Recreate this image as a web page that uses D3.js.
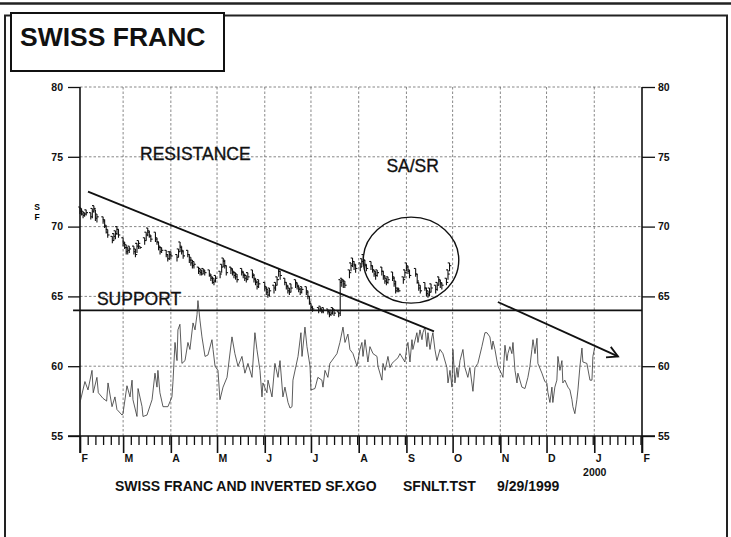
<!DOCTYPE html>
<html><head><meta charset="utf-8">
<script src="https://cdn.jsdelivr.net/npm/d3@7"></script>
<style>
body{margin:0;background:#fff}
svg{display:block}
text{font-family:"Liberation Sans",Arial,Helvetica,sans-serif}
</style>
</head><body>
<svg id="chart" width="731" height="537"></svg>
<script>
// ---------- DATA ----------
const startDate = new Date(1999, 1, 1);
const endDate = new Date(2000, 1, 1);
const yTicks = [55, 60, 65, 70, 75, 80];
const monthLabels = ["F","M","A","M","J","J","A","S","O","N","D","J","F"];
const yearLabel = "2000";
const titleText = "SWISS FRANC";
const captionParts = ["SWISS FRANC AND INVERTED SF.XGO", "SFNLT.TST", "9/29/1999"];
const supportLevel = 64;

// daily OHLC-style bars (day offset from Feb 1 1999)
const barDays  = [0,1,2,3,4, 7,8,9,10,11, 15,16,17,18, 21,22,23,24,25, 28,29,30,31,32, 35,36,37,38,39, 42,43,44,45,46, 49,50,51,52,53, 56,57,58,59, 63,64,65,66,67, 70,71,72,73,74, 77,78,79,80,81, 84,85,86,87,88, 91,92,93,94,95, 98,99,100,101,102, 105,106,107,108,109, 112,113,114,115,116, 120,121,122,123, 126,127,128,129,130, 133,134,135,136,137, 140,141,142,143,144, 147,148,149,150,151, 155,156,157,158, 161,162,163,164,165, 168,169,170,171,172, 175,176,177,178,179, 182,183,184,185,186, 189,190,191,192,193, 196,197,198,199,200, 203,204,205,206,207, 210,211,212,213,214, 218,219,220,221, 224,225,226,227,228, 231,232,233,234,235, 238,239,240];
const barHigh  = [71.4,71.3,71.1,71.0,71.2, 71.0,71.3,71.5,71.2,70.9, 70.7,70.5,70.1,69.8, 69.3,69.5,69.7,70.0,69.8, 69.2,68.9,68.7,68.5,68.6, 68.6,68.4,68.8,69.0,68.6, 69.2,69.6,69.9,69.7,69.4, 69.6,69.2,68.9,68.6,68.5, 68.3,68.0,68.2,68.2, 68.0,68.4,68.9,68.6,68.3, 68.3,68.0,67.8,67.6,67.5, 67.1,67.0,66.9,67.0,66.9, 66.9,66.6,66.4,66.3,66.5, 66.8,67.3,67.75,67.6,67.2, 67.1,67.0,66.8,66.7,66.6, 67.0,66.8,66.6,66.5,66.7, 66.9,66.6,66.3,66.1,66.2, 66.0,65.7,65.5,65.6, 65.8,66.0,66.4,67.0,66.8, 66.3,66.0,65.8,65.6,65.9, 66.2,66.0,65.8,65.6,65.7, 65.7,65.4,65.0,64.5,64.3, 64.2,64.3,64.1,64.2, 64.1,63.9,64.0,64.2,64.1, 63.9,66.2,66.3,66.2,66.1, 66.9,67.4,67.75,67.5,67.3, 67.4,67.7,68.0,67.6,67.3, 67.5,67.2,66.9,66.8,66.9, 67.1,66.8,66.5,66.3,66.4, 66.75,66.4,66.1,65.6,65.6, 66.4,66.9,67.4,67.2,66.9, 67.0,66.6,66.0,65.8, 66.0,65.6,65.4,65.6,65.9, 65.8,66.0,66.4,66.2,66.0, 66.3,66.9,67.4];
const barLow   = [70.9,70.8,70.6,70.7,70.8, 70.5,70.6,71.0,70.4,70.3, 70.2,69.9,69.5,69.2, 68.8,69.0,69.1,69.4,69.2, 68.6,68.4,68.0,68.0,68.1, 68.0,67.8,68.1,68.4,68.4, 68.7,69.0,69.3,69.2,68.9, 68.9,68.7,68.3,68.0,68.1, 67.8,67.5,67.6,67.7, 67.5,67.8,68.2,68.0,67.7, 67.8,67.4,67.2,67.0,67.0, 66.6,66.5,66.5,66.6,66.5, 66.4,66.1,65.9,65.8,66.0, 66.3,66.7,67.1,67.0,66.5, 66.6,66.5,66.3,66.2,66.0, 66.5,66.3,66.1,66.0,66.2, 66.3,66.0,65.8,65.5,65.6, 65.4,65.1,64.9,65.0, 65.2,65.4,65.8,66.4,66.2, 65.8,65.5,65.2,65.1,65.3, 65.6,65.5,65.3,65.1,65.2, 65.1,64.8,64.4,64.0,63.9, 63.8,63.9,63.8,63.8, 63.7,63.5,63.6,63.7,63.6, 63.5,63.6,65.7,65.6,65.6, 66.3,66.8,67.1,66.9,66.7, 66.8,67.1,67.3,67.0,66.8, 66.9,66.7,66.4,66.2,66.4, 66.5,66.2,65.9,65.8,65.9, 66.1,65.7,65.2,65.3,65.3, 65.9,66.3,66.8,66.6,66.3, 66.4,65.9,65.4,65.2, 65.4,65.0,64.9,65.0,65.3, 65.2,65.4,65.8,65.6,65.5, 65.8,66.2,66.8];
const barClose = [71.1,70.9,70.8,70.9,71.0, 70.7,71.1,71.3,70.6,70.7, 70.4,70.0,69.6,69.4, 69.0,69.3,69.5,69.8,69.4, 68.8,68.5,68.2,68.3,68.4, 68.2,68.0,68.6,68.8,68.5, 69.0,69.4,69.6,69.3,69.1, 69.1,68.9,68.5,68.2,68.3, 68.0,67.7,68.0,67.9, 67.8,68.2,68.5,68.2,67.9, 68.0,67.6,67.4,67.2,67.3, 66.8,66.7,66.6,66.8,66.7, 66.5,66.3,66.0,66.1,66.3, 66.6,67.1,67.5,67.2,66.7, 66.9,66.7,66.5,66.4,66.2, 66.7,66.5,66.3,66.2,66.4, 66.5,66.2,66.0,65.7,65.9, 65.6,65.3,65.1,65.4, 65.6,65.8,66.2,66.8,66.5, 66.0,65.7,65.4,65.3,65.6, 65.9,65.7,65.5,65.3,65.5, 65.3,65.0,64.6,64.2,64.1, 64.0,64.1,63.9,64.0, 63.9,63.7,63.8,64.0,63.8, 63.8,66.0,66.1,65.9,65.8, 66.7,67.2,67.5,67.2,67.0, 67.1,67.5,67.6,67.2,67.0, 67.2,66.9,66.6,66.5,66.7, 66.8,66.4,66.1,66.0,66.2, 66.3,65.9,65.4,65.5,65.4, 66.2,66.7,67.1,66.8,66.5, 66.6,66.1,65.6,65.4, 65.6,65.2,65.1,65.3,65.6, 65.5,65.8,66.1,65.9,65.8, 66.0,66.6,67.2];

// inverted SF line (day offset, value)
const lineDays = [0,3.2,5.2,7.8,8.6,11,11.9,14.9,17.3,18.2,20.8,22.7,24,27.3,27.9,30.5,32.5,33.8,34.4,37,37.7,40.3,40.9,43.5,46.8,48.7,50,50.6,51.9,53.9,57.1,59.7,60.4,61.7,63,63.6,64.9,66.2,68.2,70.1,71.4,73.4,74.7,76,76.6,77.9,79.2,81.2,83.1,85.7,86.4,87.7,89.6,90.9,92.9,95.5,98.7,100.6,102.6,105.2,107.1,109.1,111.7,113.6,114.9,116.9,118.2,118.8,121.4,122.1,124.7,126.6,128.6,129.9,131.8,133.1,135.1,136.4,137.7,138.3,141.6,143.5,144.2,146.1,147.4,149.4,150,152.6,154.5,157.1,157.8,159.1,161,162.3,166.9,168.8,170.8,172.1,174,175.3,177.3,179.9,181.8,183.1,183.8,185.1,187,188.3,190.3,192.9,193.5,196.1,196.8,198.1,200,201.3,202.6,204.5,206.5,207.8,211,212.3,213,214.3,215.6,216.2,218.8,219.5,220.8,222.1,222.7,224,225.3,226,227.3,228.6,229.2,230.5,231.8,233.8,235.7,238.3,239,240.3,241.6,242.2,243.5,244.8,245.5,246.8,248.7,250,251.9,253.2,255.2,256.5,258.4,261,263,264.3,266.2,267.5,268.2,269.5,271.4,274,274.7,276,277.3,277.9,279.2,280.5,281.2,282.5,283.8,284.4,285.7,287,289,290.9,292.2,293.5,294.2,295.5,296.8,297.4,300,301.9,303.2,303.9,305.2,306.5,307.1,308.4,309.7,310.4,311.7,313,313.6,314.9,316.9,318.2,319.5,320.1,321.4,322.7,323.4,324.7,326,326.6,329.2,331.2,332.5,333.1,334.4];
const lineValues = [57.4,58.9,58.3,59.7,58.1,59.2,58.1,57.7,57.5,58.8,57.1,57.8,56.9,56.5,56.6,58.6,57.8,59.0,57.6,56.4,58.4,57.1,56.4,56.5,57.6,59.5,58.5,59.7,58.1,57.1,57.1,57.8,58.9,61.7,60.4,62.6,63.0,60.2,60.4,61.7,61.2,63.1,62.6,63.7,64.7,63.3,62.1,60.7,60.8,61.9,61.2,60.0,59.7,57.6,58.5,59.2,62.1,60.9,60.0,60.7,59.5,60.2,59.2,62.4,61.2,59.7,57.8,58.8,58.1,59.0,57.8,60.2,59.2,60.4,57.8,58.5,57.4,57.0,57.1,59.0,60.7,62.4,60.7,62.8,61.4,60.0,58.3,58.4,59.2,59.0,58.5,59.7,59.2,60.2,60.9,61.7,62.8,61.7,62.3,61.2,60.9,60.0,61.2,61.7,60.7,61.9,60.3,61.4,60.9,60.7,60.0,59.0,60.2,59.7,60.7,59.9,60.2,60.4,60.6,60.9,60.3,61.4,61.7,60.3,61.9,61.2,62.4,61.7,62.6,61.9,62.4,62.8,61.4,62.4,61.2,62.1,62.4,61.2,60.4,61.2,60.9,59.9,58.8,59.7,58.5,61.2,58.8,59.9,59.2,60.4,61.2,59.9,59.2,59.9,58.2,59.9,60.2,61.4,62.4,62.4,62.1,61.2,61.8,61.2,60.0,59.4,59.2,61.5,60.4,60.9,61.4,60.9,61.7,59.7,58.8,59.5,59.0,58.5,58.4,59.2,60.0,61.2,61.9,60.9,62.0,60.2,59.5,58.9,58.8,58.1,57.4,58.5,57.4,58.5,59.0,60.7,59.7,60.4,58.8,59.0,58.5,58.3,57.6,57.1,56.6,57.6,58.3,60.0,61.3,60.3,60.2,59.0,59.0,60.7,61.4];

// annotations (day offset, value)
const resistanceLine = [[5.2, 72.5], [229.9, 62.5]];
const trendArrow = [[271.4, 64.6], [349.4, 60.7]];
const saCircle = {day: 215, value: 67.6, rDays: 31, rValue: 3.08};
const annotations = [
  {text: "RESISTANCE", day: 39, value: 74.8},
  {text: "SA/SR", day: 199, value: 73.9},
  {text: "SUPPORT", day: 11, value: 64.4}
];

// ---------- DRAW ----------
const svg = d3.select("#chart");
const dayToDate = d => new Date(startDate.getTime() + d * 86400000);
const FONT = '"Liberation Sans",Arial,sans-serif';

const x = d3.scaleTime().domain([startDate, endDate]).range([80, 642]);
const y = d3.scaleLinear().domain([55, 80]).range([436, 87]);

// outer decorations
svg.append("line").attr("x1", 0).attr("x2", 731).attr("y1", 3.5).attr("y2", 3.5)
  .attr("stroke", "#222").attr("stroke-width", 2.5);
svg.append("path").attr("d", "M5,540V15.5H727V540").attr("fill", "none")
  .attr("stroke", "#222").attr("stroke-width", 2);

// grid
const months = d3.timeMonth.range(startDate, d3.timeDay.offset(endDate, 1));
const grid = svg.append("g").attr("stroke", "#555").attr("stroke-width", 0.7)
  .attr("stroke-dasharray", "2.5,2");
grid.selectAll(".gh").data(yTicks.filter(v => v > 55)).join("line")
  .attr("x1", x(startDate)).attr("x2", x(endDate))
  .attr("y1", d => y(d)).attr("y2", d => y(d));
grid.selectAll(".gv").data(months.slice(1, -1)).join("line")
  .attr("x1", d => x(d)).attr("x2", d => x(d))
  .attr("y1", y(80)).attr("y2", y(55));

// axes
const axisG = svg.append("g");
const leftAxis = d3.axisLeft(y).tickValues(yTicks).tickSize(12).tickPadding(5).tickSizeOuter(0);
const gl = axisG.append("g").attr("transform", `translate(${x(startDate)},0)`).call(leftAxis);
const rightAxis = d3.axisRight(y).tickValues(yTicks).tickSize(13).tickPadding(3).tickSizeOuter(0);
const gr = axisG.append("g").attr("transform", `translate(${x(endDate)},0)`).call(rightAxis);

const minorDays = d3.timeDay.every(5).range(startDate, endDate).filter(d => d.getDate() !== 1);
const minorAxis = d3.axisBottom(x).tickValues(minorDays).tickSize(9).tickFormat("").tickSizeOuter(0);
const gm = axisG.append("g").attr("transform", `translate(0,${y(55)})`).call(minorAxis);
const majorAxis = d3.axisBottom(x).tickValues(months).tickSize(17).tickSizeOuter(0)
  .tickFormat((d, i) => monthLabels[i]);
const gM = axisG.append("g").attr("transform", `translate(0,${y(55)})`).call(majorAxis);

[gl, gr, gm, gM].forEach(g => {
  g.select(".domain").remove();
  g.selectAll(".tick line").attr("stroke", "#111").attr("stroke-width", 1.3);
  g.selectAll("text").attr("fill", "#111").attr("font-size", 10.5).attr("font-weight", "bold")
    .attr("font-family", FONT);
});
gM.selectAll(".tick line").attr("stroke-width", 1.6);
gM.selectAll(".tick text").attr("text-anchor", "start").attr("x", 1).attr("dy", null).attr("y", 26);
gM.selectAll(".tick").filter((d, i) => i === 11).append("text")
  .text(yearLabel).attr("x", 0).attr("y", 40).attr("fill", "#111")
  .attr("font-size", 10.5).attr("font-weight", "bold").attr("font-family", FONT);

// axis lines
axisG.append("line").attr("x1", x(startDate)).attr("x2", x(startDate))
  .attr("y1", y(80)).attr("y2", y(55) + 17).attr("stroke", "#111").attr("stroke-width", 1.6);
axisG.append("line").attr("x1", x(endDate)).attr("x2", x(endDate))
  .attr("y1", y(80)).attr("y2", y(55) + 17).attr("stroke", "#111").attr("stroke-width", 1.6);
axisG.append("line").attr("x1", x(startDate) - 12).attr("x2", x(endDate) + 13)
  .attr("y1", y(55)).attr("y2", y(55)).attr("stroke", "#111").attr("stroke-width", 1.6);

// S F label
svg.append("text").attr("x", 37).attr("y", 210).attr("text-anchor", "middle")
  .attr("font-size", 8.5).attr("font-weight", "bold").text("S");
svg.append("text").attr("x", 37).attr("y", 220).attr("text-anchor", "middle")
  .attr("font-size", 8.5).attr("font-weight", "bold").text("F");

// support line
svg.append("line").attr("x1", x(dayToDate(-4.5))).attr("x2", x(endDate))
  .attr("y1", y(supportLevel)).attr("y2", y(supportLevel))
  .attr("stroke", "#111").attr("stroke-width", 1.6);

// inverted line
const lineGen = d3.line().x((d, i) => x(dayToDate(lineDays[i]))).y(d => y(d));
svg.append("path").datum(lineValues).attr("d", lineGen)
  .attr("fill", "none").attr("stroke", "#333").attr("stroke-width", 0.8);

// bars
const bars = svg.append("g").attr("stroke", "#111").attr("stroke-width", 1.1);
barDays.forEach((d, i) => {
  const bx = x(dayToDate(d));
  bars.append("line").attr("x1", bx).attr("x2", bx).attr("y1", y(barHigh[i])).attr("y2", y(barLow[i]));
  bars.append("line").attr("x1", bx).attr("x2", bx + 1.8).attr("y1", y(barClose[i])).attr("y2", y(barClose[i]));
  bars.append("line").attr("x1", bx - 1.8).attr("x2", bx).attr("y1", y(barHigh[i])).attr("y2", y(barHigh[i]));
});

// resistance line
const annLine = d3.line().x(d => x(dayToDate(d[0]))).y(d => y(d[1]));
svg.append("path").attr("d", annLine(resistanceLine)).attr("fill", "none")
  .attr("stroke", "#111").attr("stroke-width", 1.8);
// trend arrow
svg.append("path").attr("d", annLine(trendArrow)).attr("fill", "none")
  .attr("stroke", "#111").attr("stroke-width", 1.8);
{
  const p1 = [x(dayToDate(trendArrow[0][0])), y(trendArrow[0][1])];
  const p2 = [x(dayToDate(trendArrow[1][0])), y(trendArrow[1][1])];
  const ang = Math.atan2(p2[1] - p1[1], p2[0] - p1[0]);
  const L = 12, spread = 0.5;
  const a1 = [p2[0] - L * Math.cos(ang - spread), p2[1] - L * Math.sin(ang - spread)];
  const a2 = [p2[0] - L * Math.cos(ang + spread), p2[1] - L * Math.sin(ang + spread)];
  svg.append("path").attr("d", `M${a1}L${p2}L${a2}`).attr("fill", "none")
    .attr("stroke", "#111").attr("stroke-width", 1.8);
}
// circle
svg.append("ellipse")
  .attr("cx", x(dayToDate(saCircle.day))).attr("cy", y(saCircle.value))
  .attr("rx", x(dayToDate(saCircle.day + saCircle.rDays)) - x(dayToDate(saCircle.day)))
  .attr("ry", y(saCircle.value - saCircle.rValue) - y(saCircle.value))
  .attr("fill", "none").attr("stroke", "#111").attr("stroke-width", 1.4);

// annotation texts
svg.selectAll(".ann").data(annotations).join("text")
  .attr("x", d => x(dayToDate(d.day))).attr("y", d => y(d.value))
  .attr("font-size", 17.5).attr("fill", "#111")
  .attr("stroke", "#111").attr("stroke-width", 0.35).text(d => d.text);

// title box
svg.append("rect").attr("x", 11).attr("y", 13).attr("width", 213).attr("height", 58)
  .attr("fill", "#fff").attr("stroke", "#111").attr("stroke-width", 2);
svg.append("text").attr("x", 20).attr("y", 46).attr("font-size", 26.5)
  .attr("font-weight", "bold").attr("fill", "#111").text(titleText);

// caption
const capX = [115, 403, 497];
captionParts.forEach((t, i) => {
  svg.append("text").attr("x", capX[i]).attr("y", 491).attr("font-size", 14)
    .attr("font-weight", "bold").attr("fill", "#111").text(t);
});
</script>
</body></html>
